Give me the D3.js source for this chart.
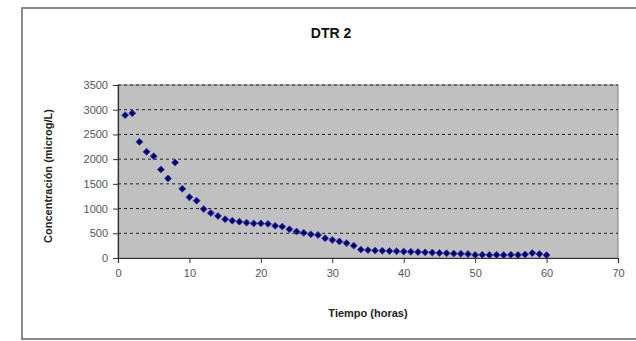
<!DOCTYPE html>
<html>
<head>
<meta charset="utf-8">
<script src="https://cdn.jsdelivr.net/npm/d3@7"></script>
<style>
  body { margin: 0; background: #fff; }
  svg { display: block; font-family: "Liberation Sans", Arial, sans-serif; }
</style>
</head>
<body>
<div id="chart"></div>
<script>
// hours and measured concentration (microg/L)
var hours = [];
for (var i = 1; i <= 60; i++) hours.push(i);
var conc = [2890, 2930, 2350, 2150, 2060, 1790, 1610, 1930, 1400, 1230,
            1160, 990, 910, 850, 785, 755, 735, 715, 700, 700,
            690, 650, 635, 580, 535, 510, 480, 465, 400, 365,
            335, 300, 250, 170, 160, 150, 145, 140, 135, 130,
            125, 120, 115, 110, 100, 95, 90, 85, 80, 62,
            65, 60, 65, 60, 65, 62, 72, 100, 82, 58];
var xTicks = [0, 10, 20, 30, 40, 50, 60, 70];
var yTicks = [0, 500, 1000, 1500, 2000, 2500, 3000, 3500];

var w = 636, h = 341;
var svg = d3.select("#chart").append("svg")
   .attr("width", w)
   .attr("height", h);

// chart frame
svg.append("rect")
   .attr("x", 22).attr("y", 8)
   .attr("width", 640).attr("height", 331)
   .attr("fill", "#fff")
   .attr("stroke", "#8a8a8a")
   .attr("stroke-width", 2);

var xScale = d3.scaleLinear().domain([0, 70]).range([118, 618]);
var yScale = d3.scaleLinear().domain([0, 3500]).range([258, 85]);

// plot area
svg.append("rect")
   .attr("x", xScale(0)).attr("y", yScale(3500))
   .attr("width", xScale(70) - xScale(0))
   .attr("height", yScale(0) - yScale(3500))
   .attr("fill", "#c0c0c0")
   .attr("stroke", "#808080")
   .attr("stroke-width", 1);

// dashed gridlines
svg.selectAll(".grid")
   .data(yTicks.slice(1))
   .enter()
   .append("line")
   .attr("class", "grid")
   .attr("x1", xScale(0)).attr("x2", xScale(70))
   .attr("y1", function(d) { return yScale(d); })
   .attr("y2", function(d) { return yScale(d); })
   .attr("stroke", "#222")
   .attr("stroke-dasharray", "3,3");

var xAxis = d3.axisBottom(xScale).tickValues(xTicks).tickFormat(d3.format("d")).tickSize(5).tickPadding(6);
var yAxis = d3.axisLeft(yScale).tickValues(yTicks).tickFormat(d3.format("d")).tickSize(5).tickPadding(5);

var gx = svg.append("g")
   .attr("transform", "translate(0," + yScale(0) + ")")
   .call(xAxis);
var gy = svg.append("g")
   .attr("transform", "translate(" + xScale(0) + ",0)")
   .call(yAxis);

[gx, gy].forEach(function(g) {
   g.select(".domain").attr("stroke", "#333").attr("stroke-width", 1.2);
   g.selectAll(".tick line").attr("stroke", "#333");
   g.selectAll(".tick text")
      .attr("fill", "#555")
      .style("font-size", "11px")
      .style("font-family", "Liberation Sans, Arial, sans-serif");
});

// points (square turned 45deg, like Excel's diamond marker)
svg.selectAll(".pt")
   .data(conc)
   .enter()
   .append("path")
   .attr("class", "pt")
   .attr("d", d3.symbol().type(d3.symbolSquare).size(24))
   .attr("transform", function(d, i) {
      return "translate(" + xScale(hours[i]) + "," + yScale(d) + ") rotate(45)";
   })
   .attr("fill", "#00007a")
   .attr("stroke", "#3a3aa0")
   .attr("stroke-width", 0.8);

// title and axis titles
svg.append("text")
   .attr("x", 331).attr("y", 38)
   .attr("text-anchor", "middle")
   .style("font-size", "14px")
   .style("font-weight", "bold")
   .attr("fill", "#111")
   .text("DTR 2");

svg.append("text")
   .attr("x", 368).attr("y", 317)
   .attr("text-anchor", "middle")
   .style("font-size", "11px")
   .style("font-weight", "bold")
   .attr("fill", "#222")
   .text("Tiempo (horas)");

svg.append("text")
   .attr("transform", "translate(52,176) rotate(-90)")
   .attr("text-anchor", "middle")
   .style("font-size", "11px")
   .style("font-weight", "bold")
   .attr("fill", "#222")
   .text("Concentración (microg/L)");
</script>
</body>
</html>
